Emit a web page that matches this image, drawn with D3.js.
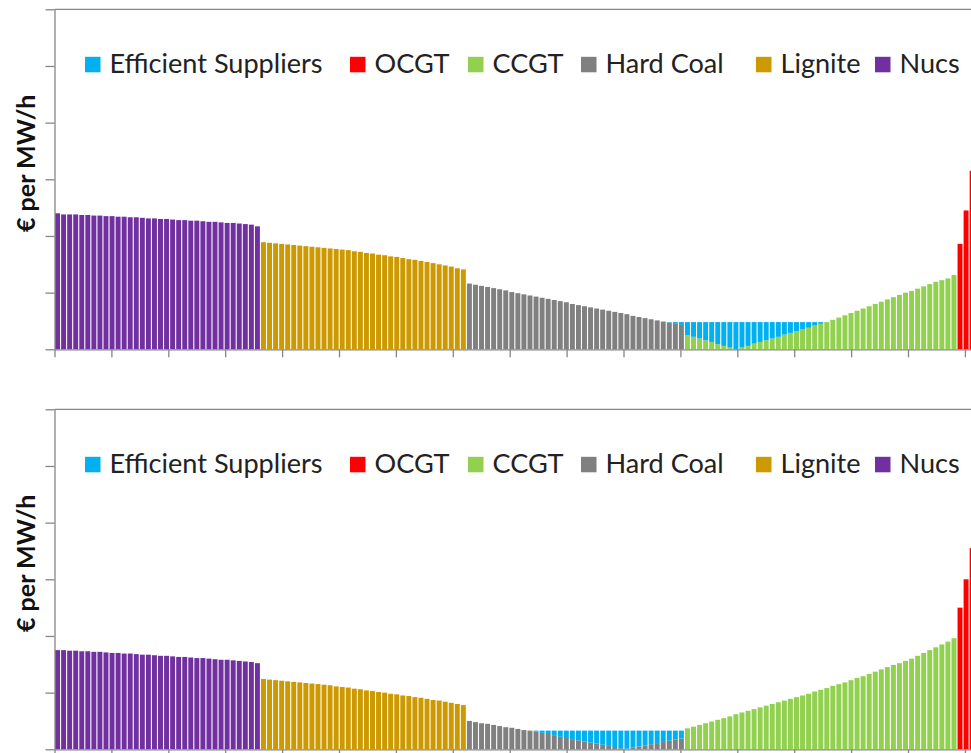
<!DOCTYPE html>
<html>
<head>
<meta charset="utf-8">
<script src="https://cdn.jsdelivr.net/npm/d3@7"></script>
<style>
  html, body { margin: 0; padding: 0; background: #fff; overflow: hidden; }
  svg { display: block; }
</style>
</head>
<body>
<div id="chart"></div>
<script>
// Series names and colours (legend order)
var legendNames = ["Efficient Suppliers", "OCGT", "CCGT", "Hard Coal", "Lignite", "Nucs"];
var seriesColors = {
    "Efficient Suppliers": "#00B0F0",
    "OCGT": "#FF0000",
    "CCGT": "#92D050",
    "Hard Coal": "#808080",
    "Lignite": "#CC9900",
    "Nucs": "#7030A0"
};
var meritOrder = ["Nucs", "Lignite", "Hard Coal", "CCGT", "OCGT"];

// y values are in gridline units (the axis has no labels), 0..6
var yTicks = [0, 1, 2, 3, 4, 5, 6];

// ---- top chart ----
var nucsTop = [2.40, 2.38, 2.38, 2.38, 2.37, 2.37, 2.36, 2.36, 2.35, 2.35, 2.34, 2.34, 2.33, 2.33, 2.32, 2.31, 2.31,
               2.30, 2.30, 2.29, 2.28, 2.28, 2.27, 2.27, 2.26, 2.25, 2.25, 2.24, 2.23, 2.23, 2.22, 2.21, 2.20, 2.17];
var ligniteTop = [1.89, 1.88, 1.87, 1.86, 1.85, 1.84, 1.83, 1.82, 1.81, 1.80, 1.79, 1.78, 1.77, 1.76, 1.75, 1.73, 1.72,
                  1.70, 1.69, 1.67, 1.66, 1.64, 1.63, 1.61, 1.59, 1.58, 1.56, 1.54, 1.52, 1.50, 1.48, 1.46, 1.43, 1.41];
var coalTop = [1.16, 1.14, 1.12, 1.10, 1.08, 1.06, 1.04, 1.01, 0.99, 0.97, 0.95, 0.93, 0.91, 0.89, 0.87, 0.85, 0.83, 0.80,
               0.78, 0.76, 0.74, 0.72, 0.70, 0.68, 0.66, 0.64, 0.62, 0.59, 0.57, 0.55, 0.53, 0.51, 0.49, 0.47, 0.45, 0.43];
var ccgtTop = [0.25, 0.22, 0.19, 0.16, 0.13, 0.09, 0.06, 0.03, 0.00, 0.03, 0.06, 0.10, 0.13, 0.16, 0.19, 0.22, 0.26,
               0.29, 0.32, 0.35, 0.38, 0.42, 0.45, 0.48, 0.52, 0.56, 0.60, 0.64, 0.68, 0.72, 0.76, 0.80, 0.84, 0.88,
               0.92, 0.96, 1.00, 1.03, 1.07, 1.11, 1.15, 1.19, 1.22, 1.25, 1.31];
var ocgtTop = [1.86, 2.45, 3.15, 3.95, 4.8];
// efficient suppliers sit on top of the other bars, starting at bar number effTopStart
var effTopStart = 101;
var effTop = [0.01, 0.03, 0.05, 0.23, 0.26, 0.29, 0.32, 0.35, 0.39, 0.42, 0.45, 0.48, 0.45, 0.42, 0.38, 0.35, 0.32,
              0.29, 0.26, 0.22, 0.19, 0.16, 0.13, 0.10, 0.06, 0.03];

// ---- bottom chart ----
var nucsBottom = [1.75, 1.75, 1.74, 1.74, 1.73, 1.73, 1.72, 1.72, 1.71, 1.70, 1.70, 1.69, 1.69, 1.68, 1.67, 1.67, 1.66,
                  1.65, 1.65, 1.64, 1.63, 1.63, 1.62, 1.61, 1.61, 1.60, 1.59, 1.58, 1.58, 1.57, 1.56, 1.55, 1.54, 1.52];
var ligniteBottom = [1.24, 1.23, 1.22, 1.21, 1.20, 1.19, 1.18, 1.17, 1.16, 1.15, 1.14, 1.13, 1.11, 1.10, 1.09, 1.07, 1.06,
                     1.04, 1.03, 1.01, 1.00, 0.98, 0.97, 0.95, 0.94, 0.92, 0.91, 0.89, 0.87, 0.86, 0.84, 0.82, 0.80, 0.78];
var coalBottom = [0.50, 0.48, 0.46, 0.45, 0.43, 0.41, 0.39, 0.38, 0.36, 0.34, 0.33, 0.31, 0.29, 0.27, 0.25, 0.22, 0.20,
                  0.18, 0.16, 0.14, 0.12, 0.10, 0.08, 0.06, 0.04, 0.02, 0.01, 0.03, 0.05, 0.07, 0.09, 0.11, 0.13, 0.15,
                  0.17, 0.19];
var ccgtBottom = [0.37, 0.40, 0.43, 0.46, 0.49, 0.52, 0.55, 0.58, 0.62, 0.65, 0.68, 0.71, 0.74, 0.77, 0.80, 0.83, 0.86,
                  0.89, 0.92, 0.95, 0.98, 1.02, 1.05, 1.08, 1.12, 1.15, 1.18, 1.22, 1.26, 1.29, 1.33, 1.37, 1.41, 1.45,
                  1.49, 1.52, 1.56, 1.60, 1.65, 1.70, 1.75, 1.80, 1.85, 1.90, 1.96];
var ocgtBottom = [2.50, 3.00, 3.55, 4.3, 5.1];
var effBottomStart = 79;
var effBottom = [0.02, 0.04, 0.06, 0.08, 0.11, 0.13, 0.15, 0.17, 0.19, 0.21, 0.23, 0.25, 0.27, 0.29, 0.31, 0.32, 0.30,
                 0.28, 0.26, 0.24, 0.22, 0.20, 0.18, 0.16, 0.14];

var panels = [
    { top: 9.3, series: { "Nucs": nucsTop, "Lignite": ligniteTop, "Hard Coal": coalTop, "CCGT": ccgtTop, "OCGT": ocgtTop },
      eff: effTop, effStart: effTopStart },
    { top: 409.3, series: { "Nucs": nucsBottom, "Lignite": ligniteBottom, "Hard Coal": coalBottom, "CCGT": ccgtBottom, "OCGT": ocgtBottom },
      eff: effBottom, effStart: effBottomStart }
];

var width = 971, height = 753;
var plotLeft = 54.5, tickStep = 56.9, plotH = 340;
var barsPerTick = 9.394;   // bars between two x tick marks
var legendX = [85, 350, 468, 581, 756, 875];
var axisColor = "#868686";
var font = "Lato, 'Open Sans', sans-serif";

var svg = d3.select("#chart").append("svg")
    .attr("width", 1040)
    .attr("height", height);

// Size the legend text so "Efficient Suppliers" spans the same width as in the reference
var probe = svg.append("text").style("font-family", font).style("font-size", "100px").text(legendNames[0]);
var legendFont = 100 * 213 / probe.node().getComputedTextLength();
probe.remove();

var x = d3.scaleLinear().domain([0, 17]).range([plotLeft, plotLeft + 17 * tickStep]);

panels.forEach(function (p) {
    var g = svg.append("g");
    var y = d3.scaleLinear().domain([0, 6]).range([p.top + plotH, p.top]);

    // flatten the merit order into one list of bars
    var bars = [];
    meritOrder.forEach(function (name) {
        p.series[name].forEach(function (v) {
            bars.push({ name: name, value: v, i: bars.length });
        });
    });
    var effBars = p.eff.map(function (v, k) {
        var b = bars[p.effStart + k];
        return { name: "Efficient Suppliers", base: b.value, value: v, i: b.i };
    });

    var bx = function (i) { return x(i / barsPerTick); };
    var gap = 1.1;

    // frame top line
    g.append("line")
        .attr("x1", plotLeft).attr("x2", 1040)
        .attr("y1", p.top).attr("y2", p.top)
        .style("stroke", axisColor).style("stroke-width", 1.3);

    g.selectAll("rect.bar")
        .data(bars)
        .enter()
        .append("rect")
        .attr("class", "bar")
        .attr("x", function (d) { return bx(d.i) + gap / 2; })
        .attr("width", function (d) { return bx(d.i + 1) - bx(d.i) - gap; })
        .attr("y", function (d) { return y(d.value); })
        .attr("height", function (d) { return y(0) - y(d.value); })
        .style("fill", function (d) { return seriesColors[d.name]; });

    g.selectAll("rect.eff")
        .data(effBars)
        .enter()
        .append("rect")
        .attr("class", "eff")
        .attr("x", function (d) { return bx(d.i) + gap / 2; })
        .attr("width", function (d) { return bx(d.i + 1) - bx(d.i) - gap; })
        .attr("y", function (d) { return y(d.base + d.value); })
        .attr("height", function (d) { return y(d.base) - y(d.base + d.value); })
        .style("fill", seriesColors["Efficient Suppliers"]);

    // axes
    var yAxis = g.append("g")
        .attr("transform", "translate(" + plotLeft + ",0)")
        .call(d3.axisLeft(y).tickValues(yTicks).tickFormat("").tickSize(9).tickSizeOuter(0));
    var xAxis = g.append("g")
        .attr("transform", "translate(0," + (p.top + plotH) + ")")
        .call(d3.axisBottom(x).tickValues(d3.range(0, 17)).tickFormat("").tickSize(8).tickSizeOuter(0));
    [yAxis, xAxis].forEach(function (a) {
        a.selectAll("path, line").style("stroke", axisColor).style("stroke-width", 1.3);
    });

    // legend
    var leg = g.selectAll("g.legend")
        .data(legendNames)
        .enter()
        .append("g")
        .attr("class", "legend")
        .attr("transform", function (d, k) { return "translate(" + legendX[k] + "," + (p.top + 47.5) + ")"; });
    leg.append("rect")
        .attr("width", 15.5).attr("height", 15.5)
        .style("fill", function (d) { return seriesColors[d]; });
    leg.append("text")
        .attr("x", 24.5)
        .attr("y", 16.5)
        .style("font-family", font)
        .style("font-size", legendFont + "px")
        .style("fill", "#222")
        .text(function (d) { return d; });

    // y axis title
    g.append("text")
        .attr("transform", "translate(35," + (p.top + 154) + ") rotate(-90)")
        .attr("text-anchor", "middle")
        .style("font-family", font)
        .style("font-weight", "bold")
        .style("font-size", "25px")
        .style("fill", "#111")
        .text("€ per MW/h");
});
</script>
</body>
</html>
